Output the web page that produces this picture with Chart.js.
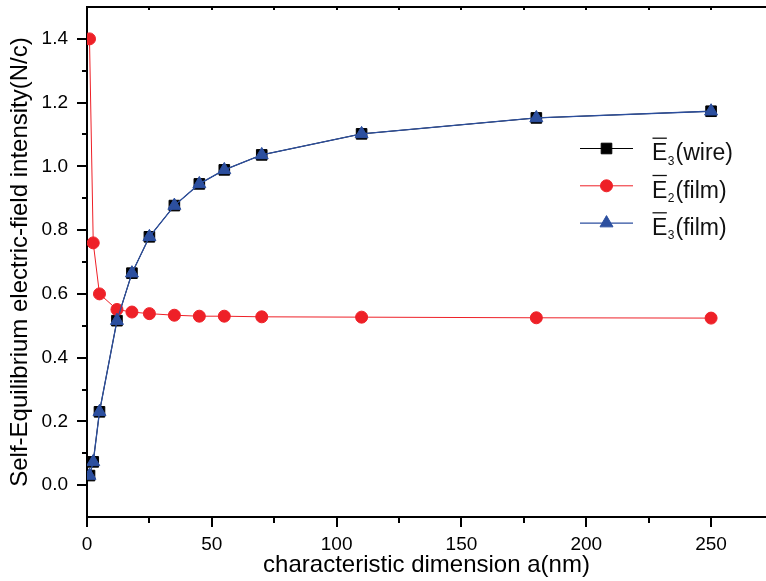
<!DOCTYPE html>
<html>
<head>
<meta charset="utf-8">
<script src="https://cdn.jsdelivr.net/npm/chart.js@4.4.1/dist/chart.umd.min.js"></script>
<style>
  html, body { margin: 0; padding: 0; background: #fff; overflow: hidden; }
  canvas { display: block; }
</style>
</head>
<body>
<canvas id="fieldChart" width="766" height="581"></canvas>
<script>
// characteristic dimension a (nm)
const sizes = [1, 2.5, 5, 12, 18, 25, 35, 45, 55, 70, 110, 180, 250];
// self-equilibrium field intensity (N/c)
const wireE3 = [0.03, 0.073, 0.23, 0.516, 0.665, 0.779, 0.877, 0.945, 0.989, 1.036, 1.102, 1.152, 1.173];
const filmE2 = [1.40, 0.76, 0.60, 0.551, 0.543, 0.538, 0.533, 0.530, 0.530, 0.528, 0.527, 0.525, 0.524];
const filmE3 = [0.03, 0.073, 0.23, 0.516, 0.665, 0.779, 0.877, 0.945, 0.989, 1.036, 1.102, 1.152, 1.173];

const xTickLabels = [0, 50, 100, 150, 200, 250];
const xMinorTicks = [25, 75, 125, 175, 225];
const yTickLabels = [0.0, 0.2, 0.4, 0.6, 0.8, 1.0, 1.2, 1.4];
const yMinorTicks = [0.1, 0.3, 0.5, 0.7, 0.9, 1.1, 1.3];

const legendSubs = ['3', '2', '3'];
const legendTails = ['(wire)', '(film)', '(film)'];

const FONT = '"Liberation Sans", Arial, Helvetica, sans-serif';
Chart.defaults.font.family = FONT;
Chart.defaults.color = '#000';

function points(ys) {
    return sizes.map((x, i) => ({ x: x, y: ys[i] }));
}

function noPadding(s) {
    s.paddingLeft = 0;
    s.paddingRight = 0;
    s.paddingTop = 0;
    s.paddingBottom = 0;
}

// top frame line and tick marks (major / minor lengths differ)
const frameTicks = {
    id: 'frameTicks',
    afterDraw(chart) {
        const ctx = chart.ctx;
        const a = chart.chartArea;
        const x = chart.scales.x;
        const y = chart.scales.y;
        ctx.save();
        ctx.strokeStyle = '#000';
        ctx.lineWidth = 2;
        ctx.beginPath();
        ctx.moveTo(a.left - 1, a.top);
        ctx.lineTo(a.right, a.top);
        ctx.stroke();

        ctx.beginPath();
        xTickLabels.concat(xMinorTicks).forEach(v => {
            const px = Math.round(x.getPixelForValue(v));
            const len = xTickLabels.includes(v) ? 10 : 6;
            ctx.moveTo(px, a.bottom);
            ctx.lineTo(px, a.bottom + len);
            ctx.moveTo(px, a.top);
            ctx.lineTo(px, a.top + 3);
        });
        ctx.stroke();

        ctx.beginPath();
        yTickLabels.concat(yMinorTicks).forEach(v => {
            const py = Math.round(y.getPixelForValue(v));
            const len = yTickLabels.includes(v) ? 10 : 5;
            ctx.moveTo(a.left, py);
            ctx.lineTo(a.left - len, py);
        });
        ctx.stroke();
        ctx.restore();
    }
};

// legend with overlined E and subscript
const barLegend = {
    id: 'barLegend',
    afterDraw(chart) {
        const ctx = chart.ctx;
        const lineX0 = 580, lineX1 = 633, textX = 652;
        chart.data.datasets.forEach((ds, i) => {
            const rowY = 148.5 + i * 37.3;
            ctx.save();
            ctx.strokeStyle = ds.borderColor;
            ctx.lineWidth = ds.borderWidth;
            ctx.beginPath();
            ctx.moveTo(lineX0, rowY);
            ctx.lineTo(lineX1, rowY);
            ctx.stroke();
            ctx.fillStyle = ds.backgroundColor;
            ctx.strokeStyle = ds.borderColor;
            ctx.lineWidth = ds.pointBorderWidth;
            Chart.helpers.drawPoint(ctx, {
                pointStyle: ds.pointStyle,
                radius: ds.pointRadius,
                rotation: 0,
                borderWidth: ds.pointBorderWidth
            }, (lineX0 + lineX1) / 2, rowY);

            const base = rowY + 11.7;
            ctx.fillStyle = '#111';
            ctx.strokeStyle = '#111';
            ctx.textBaseline = 'alphabetic';
            ctx.font = '23px ' + FONT;
            ctx.fillText('E', textX, base);
            const wE = ctx.measureText('E').width;
            ctx.lineWidth = 1.3;
            ctx.beginPath();
            ctx.moveTo(textX + 0.5, base - 22);
            ctx.lineTo(textX + wE - 0.5, base - 22);
            ctx.stroke();
            ctx.font = '12px ' + FONT;
            ctx.fillText(legendSubs[i], textX + wE + 0.5, base + 4.3);
            const wS = ctx.measureText(legendSubs[i]).width;
            ctx.font = '23px ' + FONT;
            ctx.fillText(legendTails[i], textX + wE + wS + 1.5, base);
            ctx.restore();
        });
    }
};

const ctx = document.getElementById('fieldChart').getContext('2d');
const config = {
    type: 'line',
    data: {
        datasets: [
            {
                label: 'E\u0305\u2083(wire)',
                data: points(wireE3),
                borderColor: '#000000',
                backgroundColor: '#000000',
                borderWidth: 1,
                pointStyle: 'rect',
                pointRadius: 7.5,
                pointBorderWidth: 1,
                order: 3
            },
            {
                label: 'E\u0305\u2082(film)',
                data: points(filmE2),
                borderColor: '#ee2027',
                backgroundColor: '#ee2027',
                borderWidth: 1,
                pointStyle: 'circle',
                pointRadius: 6,
                pointBorderWidth: 1,
                order: 2
            },
            {
                label: 'E\u0305\u2083(film)',
                data: points(filmE3),
                borderColor: '#2c4f9f',
                backgroundColor: '#2c4f9f',
                borderWidth: 1.3,
                pointStyle: 'triangle',
                pointRadius: 7.5,
                pointBorderWidth: 1,
                order: 1
            }
        ]
    },
    options: {
        responsive: false,
        animation: false,
        devicePixelRatio: 1,
        layout: { autoPadding: false, padding: { top: 7, left: 0, right: 0, bottom: 0 } },
        plugins: {
            legend: { display: false },
            tooltip: { enabled: false }
        },
        scales: {
            x: {
                type: 'linear',
                position: 'bottom',
                min: 0,
                max: 272,
                grid: { display: false },
                border: { display: true, color: '#000', width: 2 },
                ticks: {
                    stepSize: 50,
                    autoSkip: false,
                    maxRotation: 0,
                    padding: 8,
                    font: { size: 19 },
                    callback: v => xTickLabels.includes(v) ? String(v) : null
                },
                title: {
                    display: true,
                    text: 'characteristic dimension a(nm)',
                    font: { size: 24 },
                    padding: { top: 0, bottom: 1 }
                },
                afterFit: s => { s.height = 64; noPadding(s); }
            },
            y: {
                type: 'linear',
                position: 'left',
                min: -0.1,
                max: 1.5,
                grid: { display: false },
                border: { display: true, color: '#000', width: 2 },
                ticks: {
                    stepSize: 0.1,
                    autoSkip: false,
                    padding: 11,
                    font: { size: 19 },
                    callback: v => {
                        const k = Math.round(v * 10);
                        return (k >= 0 && k <= 14 && k % 2 === 0) ? (k / 10).toFixed(1) : null;
                    }
                },
                title: {
                    display: true,
                    text: 'Self-Equilibrium electric-field intensity(N/c)',
                    font: { size: 24 },
                    padding: { top: 6, bottom: 0 }
                },
                afterFit: s => { s.width = 87; noPadding(s); }
            }
        }
    },
    plugins: [frameTicks, barLegend]
};
const fieldChart = new Chart(ctx, config);
</script>
</body>
</html>
